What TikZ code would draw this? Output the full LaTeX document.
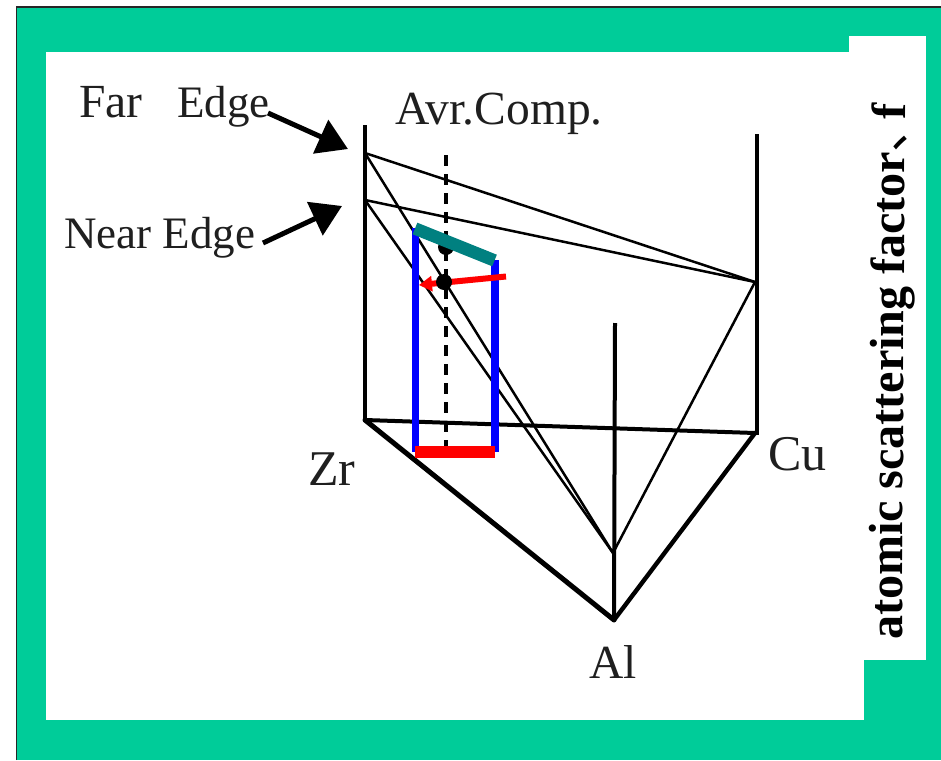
\documentclass[tikz,border=0pt]{standalone}
\usepackage{fontspec}
\setmainfont{Liberation Serif}
\newfontfamily\cjkf{Noto Sans CJK JP}
\usetikzlibrary{arrows.meta}
\definecolor{bggreen}{HTML}{00CC99}
\definecolor{tealbar}{HTML}{008080}
\tikzset{
  lab/.style={font=\fontsize{47.5}{50}\selectfont,inner sep=0pt,text=black!88},
  labn/.style={font=\fontsize{45}{50}\selectfont,inner sep=0pt,text=black!88},
  labw/.style={font=\fontsize{50}{54}\selectfont,inner sep=0pt,text=black!88},
  axisline/.style={line width=4pt,black,line cap=butt},
  baseline/.style={line width=4pt,black,line cap=round},
  thin/.style={line width=2.5pt,black},
  callout/.style={line width=5pt,black,-{Triangle[length=30pt,width=36pt]}},
  bluebar/.style={line width=7.4pt,blue},
  dot/.style={circle,fill=black,inner sep=0pt,minimum size=16pt},
}
\begin{document}
\begin{tikzpicture}[x=1pt,y=-1pt]
\useasboundingbox (0,0) rectangle (941,760);
\fill[white] (0,0) rectangle (941,760);
\fill[bggreen] (17,8) rectangle (941,760);
\draw[line width=1.6pt,black!85] (16.5,760) -- (16.5,7) -- (941,7);
\fill[white] (46,52) rectangle (864,720);
\fill[white] (849,36) rectangle (926,660);
% key points
\coordinate (zr) at (365,420);
\coordinate (cu) at (755,433);
\coordinate (al) at (614,620);
\coordinate (zrtop) at (365,125);
\coordinate (zrbot) at (365,422);
\coordinate (cutop) at (757,134);
\coordinate (cubot) at (757,435);
\coordinate (altop) at (615,323);
\coordinate (far) at (365,153);
\coordinate (near) at (365,200);
\coordinate (r) at (755,282);
\coordinate (s) at (613,553);
\coordinate (dtop) at (446,155);
\coordinate (dbot) at (446,450);
\coordinate (bl1) at (415.3,228);
\coordinate (bl2) at (415.3,452);
\coordinate (br1) at (495,260);
\coordinate (br2) at (495,452);
\coordinate (t1) at (415,228.5);
\coordinate (t2) at (494.5,260.5);
\coordinate (a1) at (506,276.5);
\coordinate (a2) at (419,285);
\coordinate (fa1) at (268,113);
\coordinate (fa2) at (348,149);
\coordinate (na1) at (263,243);
\coordinate (na2) at (342,206);
% lines
\draw[thin] (far) -- (r);
\draw[thin] (near) -- (r);
\draw[thin] (far) -- (s);
\draw[thin] (near) -- (s);
\draw[thin] (r) -- (s);
\draw[axisline] (zrtop) -- (zrbot);
\draw[axisline] (cutop) -- (cubot);
\draw[axisline] (altop) -- (al);
\draw[baseline] (zr) -- (cu);
\draw[line width=5pt,line cap=round] (zr) -- (al);
\draw[line width=4.4pt,line cap=round] (cu) -- (al);
\draw[line width=3.6pt,dash pattern=on 11pt off 8pt] (dtop) -- (dbot);
\node[dot] (d1) at (446,247) {};
\draw[bluebar] (bl1) -- (bl2);
\draw[bluebar] (br1) -- (br2);
\draw[line width=12pt,red] (bl2) -- (br2);
\draw[line width=12.5pt,tealbar] (t1) -- (t2);
\draw[line width=6pt,red,-{Triangle[length=13pt,width=15pt]}] (a1) -- (a2);
\node[dot] (d2) at (444,282) {};
\draw[callout] (fa1) -- (fa2);
\draw[callout] (na1) -- (na2);
% labels
\node[lab,anchor=base west] (farl) at (79,117) {Far};
\node[labn,anchor=base west] (edgel) at (177,117) {Edge};
\node[labn,anchor=base west] (nearl) at (64,248) {Near Edge};
\node[lab,anchor=base west] (avr) at (395,124) {Avr.Comp.};
\node[labw,anchor=base west] (zrl) at (308,485) {Zr};
\node[labw,anchor=base west] (cul) at (768,470) {Cu};
\node[lab,anchor=base west] (all) at (589,678) {Al};
\node[anchor=base west,rotate=89.65,inner sep=0pt,font=\fontsize{48}{52}\selectfont\bfseries] (axl) at (902,640) {atomic scattering factor{\cjkf\mdseries、\hspace{-15pt}}f};
\end{tikzpicture}
\end{document}
